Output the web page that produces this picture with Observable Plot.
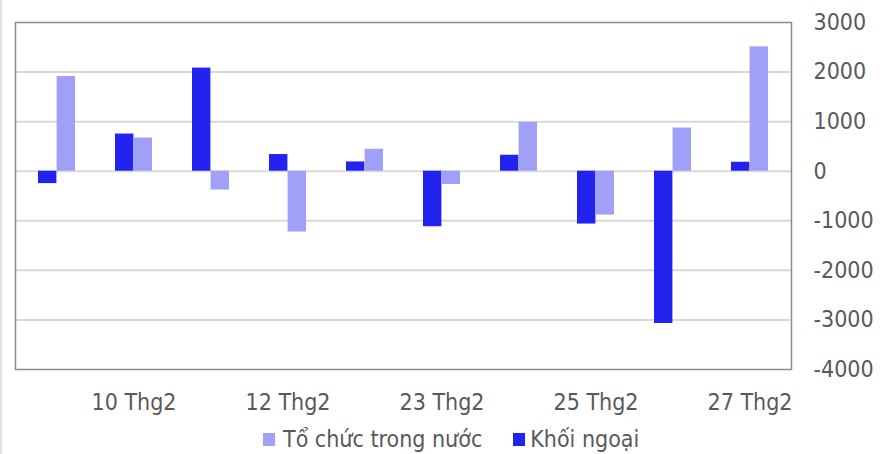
<!DOCTYPE html>
<html>
<head>
<meta charset="utf-8">
<script src="https://cdn.jsdelivr.net/npm/d3@7"></script>
<script src="https://cdn.jsdelivr.net/npm/@observablehq/plot@0.6"></script>
<style>
  html, body { margin: 0; padding: 0; background: #fff; }
  body { width: 882px; height: 454px; overflow: hidden; position: relative; font-family: "DejaVu Sans Condensed", "DejaVu Sans", sans-serif; }
  #edge { position: absolute; left: 0; top: 0; width: 2px; height: 454px; background: #e2e2e2; }
  #legend { position: absolute; left: 263px; top: 424px; height: 30px; display: flex; align-items: center; font-size: 23px; color: #595959; }
  .item { display: flex; align-items: center; }
  .sw { width: 12px; height: 13px; display: inline-block; }
</style>
</head>
<body>
<div id="edge"></div>
<div id="chart"></div>
<div id="legend">
  <span class="item"><span class="sw" style="background:#a0a0f8"></span><span style="margin-left:8px">Tổ chức trong nước</span></span>
  <span class="item" style="margin-left:31px"><span class="sw" style="background:#2323f0"></span><span style="margin-left:5px">Khối ngoại</span></span>
</div>
<script>
const dates = ["9 Thg2","10 Thg2","11 Thg2","12 Thg2","13 Thg2","23 Thg2","24 Thg2","25 Thg2","26 Thg2","27 Thg2"];
const khoiNgoai = [-250, 750, 2080, 336, 187, -1120, 322, -1066, -3072, 181];
const toChucTrongNuoc = [1911, 670, -380, -1227, 443, -268, 986, -885, 871, 2509];
const xTickLabels = ["10 Thg2","12 Thg2","23 Thg2","25 Thg2","27 Thg2"];
const yTicks = [-4000, -3000, -2000, -1000, 0, 1000, 2000, 3000];
const gridTicks = [-3000, -2000, -1000, 0, 1000, 2000];

const kn = dates.map((d, i) => ({date: d, value: khoiNgoai[i]}));
const tc = dates.map((d, i) => ({date: d, value: toChucTrongNuoc[i]}));

const pad = 0.521;
const plot = Plot.plot({
  width: 882,
  height: 424,
  marginLeft: 15,
  marginRight: 91,
  marginTop: 22,
  marginBottom: 55,
  style: {fontFamily: '"DejaVu Sans Condensed", "DejaVu Sans", sans-serif', fontSize: "23px", color: "#595959", background: "transparent"},
  x: {domain: dates, paddingInner: pad, paddingOuter: pad / 2, label: null},
  y: {domain: [-4000, 3000], label: null},
  marks: [
    Plot.ruleY(gridTicks, {stroke: "#d9d9d9", strokeWidth: 2}),
    Plot.barY(kn, {x: "date", y: "value", fill: "#2323f0", insetRight: 18.6, insetLeft: 0}),
    Plot.barY(tc, {x: "date", y: "value", fill: "#a0a0f8", insetLeft: 18.6, insetRight: 0}),
    Plot.frame({stroke: "#8c8c8c", strokeWidth: 1.5}),
    Plot.axisY({anchor: "right", ticks: yTicks, tickSize: 0, tickPadding: 22, tickFormat: d => String(d), fill: "#595959", label: null}),
    Plot.axisX({ticks: xTickLabels, tickSize: 0, tickPadding: 24, fill: "#595959", label: null})
  ]
});
document.getElementById("chart").appendChild(plot);
</script>
</body>
</html>
